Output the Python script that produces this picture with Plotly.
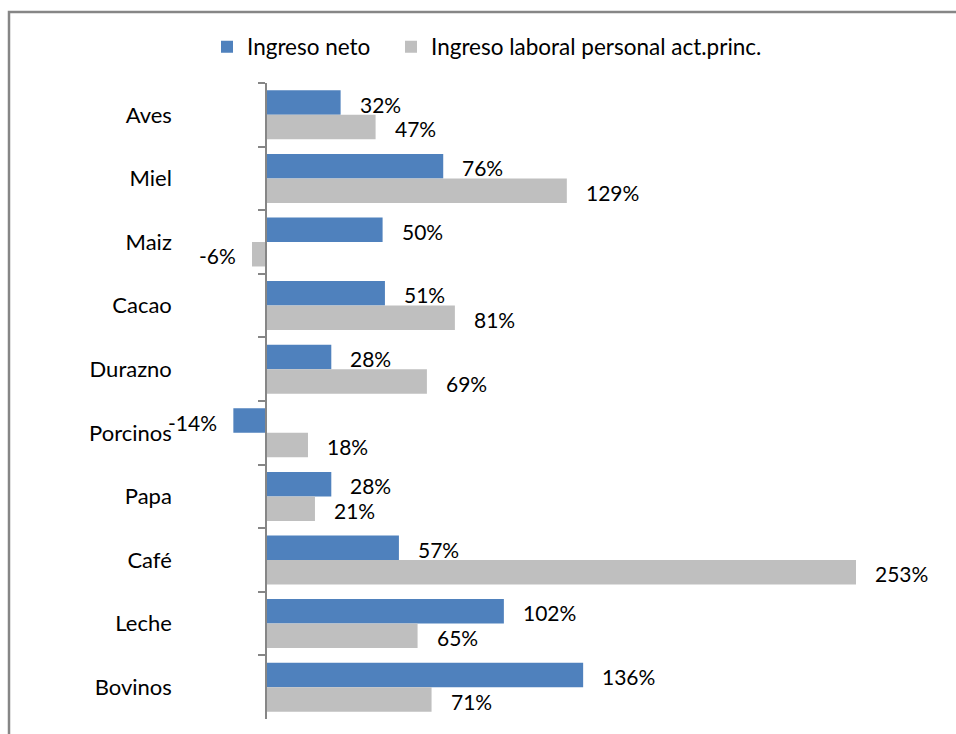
import plotly.graph_objects as go

categorias = ["Aves", "Miel", "Maiz", "Cacao", "Durazno", "Porcinos", "Papa", "Café", "Leche", "Bovinos"]
ingreso_neto = [32, 76, 50, 51, 28, -14, 28, 57, 102, 136]
ingreso_laboral = [47, 129, -6, 81, 69, 18, 21, 253, 65, 71]
series_names = ["Ingreso neto", "Ingreso laboral personal act.princ."]
colors = ["#4F81BD", "#BFBFBF"]

FONT = "Lato"
FS = 21

fig = go.Figure()
fig.add_trace(go.Bar(y=categorias, x=ingreso_neto, orientation="h", name=series_names[0],
                     marker=dict(color=colors[0], line=dict(width=0)), legend="legend"))
fig.add_trace(go.Bar(y=categorias, x=ingreso_laboral, orientation="h", name=series_names[1],
                     marker=dict(color=colors[1], line=dict(width=0)), legend="legend2"))

annotations = []
for vals, ysh in ((ingreso_neto, 12.3), (ingreso_laboral, -12.3)):
    for c, v in zip(categorias, vals):
        annotations.append(dict(
            x=v, y=c, xref="x", yref="y", text=f"{v}%", showarrow=False,
            xanchor="left" if v >= 0 else "right",
            xshift=17 if v >= 0 else -14, yshift=ysh - 1.5,
            font=dict(family=FONT, size=FS, color="#000000"),
        ))

L, R, T, B = 200, 56, 83, 15
W, H = 956, 734
pw, ph = W - L - R, H - T - B
px_per = (856 - 266) / 253.0
xmin = -(266 - L) / px_per
xmax = (W - R - 266) / px_per

def pxx(p):
    return (p - L) / pw

def pxy(p):
    return (H - B - p) / ph

leg_common = dict(orientation="h", xanchor="left", yanchor="middle", y=pxy(47),
                  font=dict(family=FONT, size=22.5, color="#000000"),
                  itemwidth=30, bgcolor="rgba(0,0,0,0)")

fig.update_layout(
    width=W, height=H,
    margin=dict(l=L, r=R, t=T, b=B),
    barmode="group", bargap=0.23, bargroupgap=0,
    plot_bgcolor="white", paper_bgcolor="white",
    font=dict(family=FONT, size=FS, color="#000000"),
    showlegend=True,
    legend=dict(x=pxx(207), **leg_common),
    legend2=dict(x=pxx(391), **leg_common),
    xaxis=dict(range=[xmin, xmax], visible=False, showgrid=False, zeroline=False, fixedrange=True),
    yaxis=dict(autorange="reversed", anchor="free", position=pxx(266), side="left",
               showline=True, linecolor="#868686", linewidth=1.5,
               ticks="outside", ticklen=7, tickcolor="#868686", tickwidth=1.5,
               tickson="boundaries", showgrid=False, zeroline=False,
               ticklabelstandoff=89, tickfont=dict(family=FONT, size=22, color="#000000")),
    annotations=annotations,
    shapes=[dict(type="rect", xref="paper", yref="paper",
                 x0=pxx(9), x1=pxx(965), y0=pxy(745), y1=pxy(12),
                 line=dict(color="#868686", width=2.5), fillcolor="rgba(0,0,0,0)", layer="below")],
)

fig.write_html("out.html")
